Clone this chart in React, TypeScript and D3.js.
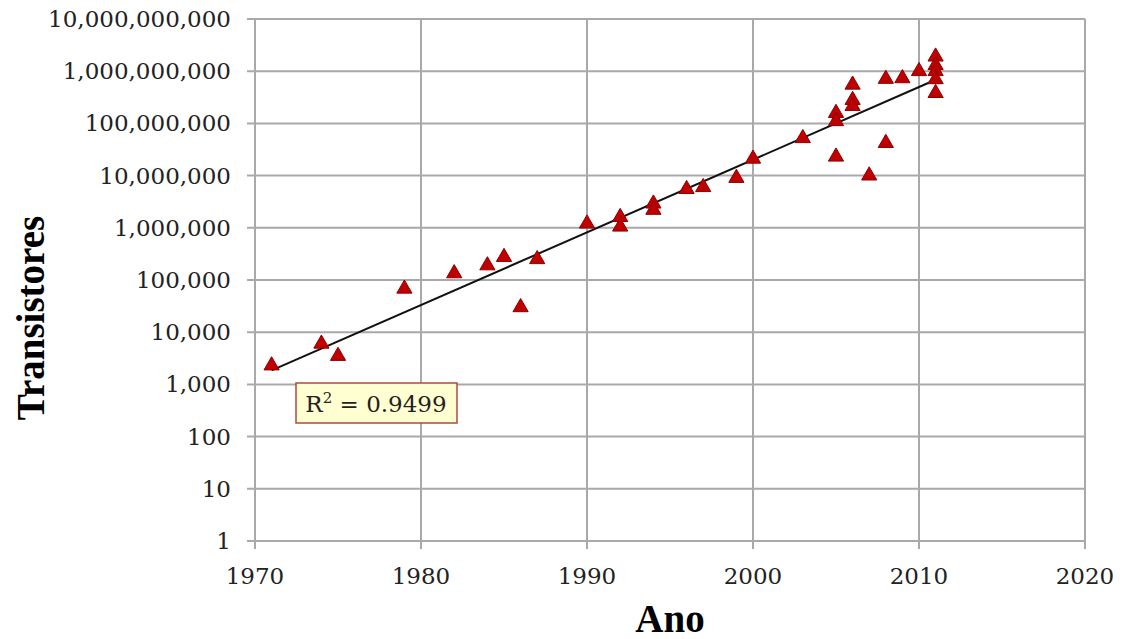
import React from "react";
import * as d3 from "d3";

// year of each chip and its transistor count
const anos = [
  1971, 1974, 1975, 1979, 1982, 1984, 1985, 1986, 1987, 1990,
  1992, 1992, 1994, 1994, 1996, 1997, 1999, 2000, 2003,
  2005, 2005, 2005, 2006, 2006, 2006, 2007, 2008, 2008, 2009,
  2010, 2011, 2011, 2011, 2011, 2011,
];
const transistores = [
  2300, 6000, 3500, 68000, 134000, 190000, 275000, 30000, 250000, 1200000,
  1600000, 1050000, 2900000, 2200000, 5500000, 6000000, 9000000, 21000000, 52000000,
  158000000, 110000000, 23000000, 550000000, 280000000, 215000000, 10000000, 710000000, 42000000, 730000000,
  1000000000, 1900000000, 1300000000, 1000000000, 700000000, 380000000,
];
const yTicks = [1, 10, 100, 1e3, 1e4, 1e5, 1e6, 1e7, 1e8, 1e9, 1e10];
const xTicks = [1970, 1980, 1990, 2000, 2010, 2020];
const r2Label = "0.9499";

const W = 1128, H = 639;
const left = 255, right = 1085, top = 19, bottom = 541;

export default function App() {
  const x = d3.scaleLinear().domain([1970, 2020]).range([left, right]);
  const y = d3.scaleLog().domain([1, 1e10]).range([bottom, top]);
  const fmt = d3.format(",");

  // exponential trend line (least squares on log10 of the counts)
  const lx = anos, ly = transistores.map(v => Math.log10(v));
  const mx = d3.mean(lx)!, my = d3.mean(ly)!;
  const slope = d3.sum(lx, (v, i) => (v - mx) * (ly[i] - my)) / d3.sum(lx, v => (v - mx) ** 2);
  const icpt = my - slope * mx;
  const [x0, x1] = d3.extent(anos) as [number, number];
  const trend = d3.line<number>().x(d => x(d)).y(d => y(Math.pow(10, icpt + slope * d)))([x0, x1]);

  const tri = d3.symbol().type(d3.symbolTriangle).size(100)();
  const grid = "#a9a9a9";
  const tickFont = "'DejaVu Serif', serif";

  return (
    <svg width={W} height={H} style={{ position: "absolute", left: 0, top: 0, background: "#fff" }}>
      {yTicks.map(t => (
        <g key={"y" + t}>
          <line x1={left - 8} x2={right} y1={y(t)} y2={y(t)} stroke={grid} strokeWidth={2} />
          <text x={231} y={y(t)} dy="0.35em" textAnchor="end" fontFamily={tickFont} fontSize={23} fill="#222">
            {fmt(t)}
          </text>
        </g>
      ))}
      {xTicks.map(t => (
        <g key={"x" + t}>
          <line x1={x(t)} x2={x(t)} y1={top} y2={bottom + 8} stroke={grid} strokeWidth={2} />
          <text x={x(t)} y={584} textAnchor="middle" fontFamily={tickFont} fontSize={23} fill="#222">
            {t}
          </text>
        </g>
      ))}
      {trend && <path d={trend} fill="none" stroke="#111" strokeWidth={2} />}
      {anos.map((a, i) => (
        <path key={i} d={tri!} transform={`translate(${x(a)},${y(transistores[i])})`}
          fill="#c00000" stroke="#8b0000" strokeWidth={1} />
      ))}
      <rect x={296} y={383} width={161} height={40} fill="#ffffd2" stroke="#b04a40" strokeWidth={1.5} />
      <text x={376} y={412} textAnchor="middle" fontFamily={tickFont} fontSize={23} fill="#222">
        R<tspan dy={-9} fontSize={15}>2</tspan><tspan dy={9}> = {r2Label}</tspan>
      </text>
      <text transform="translate(44,318) rotate(-90)" textAnchor="middle"
        fontFamily="'Liberation Serif', serif" fontWeight="bold" fontSize={39} fill="#000">
        Transistores
      </text>
      <text x={670} y={632} textAnchor="middle"
        fontFamily="'Liberation Serif', serif" fontWeight="bold" fontSize={39} fill="#000">
        Ano
      </text>
    </svg>
  );
}
